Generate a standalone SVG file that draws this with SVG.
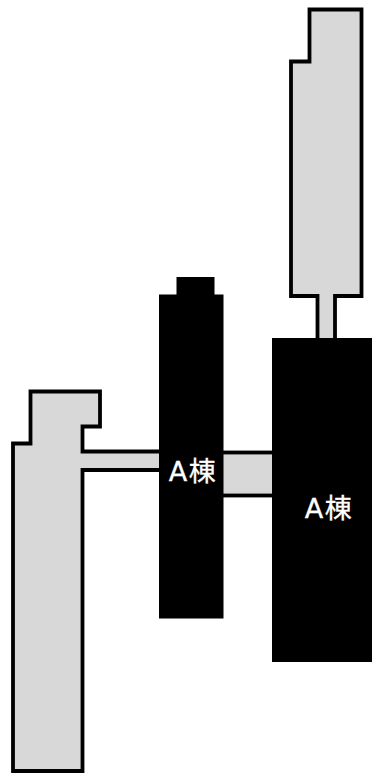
<svg xmlns="http://www.w3.org/2000/svg" width="372" height="773" viewBox="0 0 372 773">
<style>
.wing{fill:#d8d8d8;stroke:#000;stroke-width:3.800}
.block{fill:#000}
.label{fill:#fff;stroke:#fff;stroke-width:.3;font-family:"DejaVu Sans","Noto Sans CJK JP",sans-serif;font-size:27px;letter-spacing:1.500px;text-anchor:middle}
</style>
<rect width="372" height="773" fill="#fff"/>
<g id="wing-left"><path class="wing" d="M30.500 391.500H100V426.500H82.500V451.500H162V470H82.500V771H13V443.500H30.500Z"/></g>
<g id="wing-top"><path class="wing" d="M309.500 9.500H361.500V296H335V342H317.500V296H291V61.500H309.500Z"/></g>
<g id="link-middle"><rect class="wing" x="220" y="452.500" width="55" height="43"/></g>
<g id="block-a-middle"><path class="block" d="M176.500 277H214.500V294.500H223.500V618.500H159V294.500H176.500Z"/><text class="label" x="193" y="481">A棟</text></g>
<g id="block-a-right"><rect class="block" x="272" y="338" width="100" height="324"/><text class="label" x="329" y="518">A棟</text></g>
<g id="connectors"></g>
</svg>
